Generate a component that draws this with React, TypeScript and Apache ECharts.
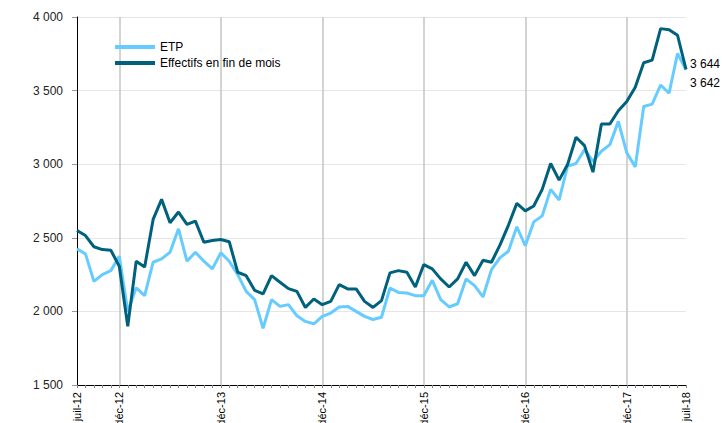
import React, { useEffect, useRef } from "react";
import * as echarts from "echarts";

const monthNames = ["janv", "févr", "mars", "avr", "mai", "juin", "juil", "août", "sept", "oct", "nov", "déc"];
const startMonth = 6; // juil
const startYear = 12;
const monthCount = 73;

const categories: string[] = [];
for (let i = 0; i < monthCount; i++) {
  const m = (startMonth + i) % 12;
  const y = startYear + Math.floor((startMonth + i) / 12);
  categories.push(`${monthNames[m]}-${y}`);
}

const shownLabels = [0, 5, 17, 29, 41, 53, 65, 72];
const decGridLines = [5, 17, 29, 41, 53, 65];

const etp = [
  2425, 2391, 2204, 2250, 2277, 2375, 2000, 2160, 2107, 2334, 2357, 2402,
  2561, 2341, 2402, 2341, 2289, 2398, 2341, 2250, 2136, 2080, 1885, 2080,
  2034, 2046, 1970, 1932, 1916, 1966, 1989, 2030, 2034, 2000, 1966, 1945,
  1960, 2159, 2129, 2125, 2107, 2107, 2211, 2080, 2030, 2052, 2221, 2175,
  2098, 2284, 2364, 2409, 2575, 2446, 2608, 2649, 2829, 2757, 2987, 3005,
  3099, 3020, 3088, 3133, 3291, 3077, 2982, 3392, 3408, 3538, 3482, 3752,
  3642,
];

const effectifs = [
  2550, 2515, 2439, 2420, 2415, 2307, 1898, 2341, 2302, 2625, 2761, 2602,
  2675, 2591, 2613, 2470, 2482, 2488, 2473, 2266, 2243, 2143, 2119, 2243,
  2198, 2155, 2136, 2027, 2084, 2046, 2068, 2182, 2153, 2153, 2068, 2027,
  2073, 2262, 2277, 2266, 2166, 2318, 2289, 2221, 2166, 2221, 2334, 2243,
  2348, 2334, 2450, 2585, 2734, 2683, 2716, 2829, 3005, 2892, 2998, 3183,
  3126, 2946, 3273, 3273, 3363, 3426, 3523, 3689, 3707, 3921, 3914, 3876,
  3644,
];

const fmt = (v: number) => String(Math.round(v)).replace(/\B(?=(\d{3})+(?!\d))/g, " ");

const FONT = "'Liberation Sans', Arial, sans-serif";

export default function App() {
  const ref = useRef<HTMLDivElement>(null);

  useEffect(() => {
    if (!ref.current) return;
    const chart = echarts.init(ref.current, undefined, { renderer: "svg" });
    chart.setOption({
      animation: false,
      backgroundColor: "#ffffff",
      textStyle: { fontFamily: FONT },
      grid: {
        left: 77,
        right: 36,
        top: 17,
        bottom: 38,
        containLabel: false,
        outerBoundsMode: "none",
      },
      legend: {
        orient: "vertical",
        left: 110,
        top: 36,
        itemWidth: 40,
        itemHeight: 4,
        itemGap: 4,
        icon: "rect",
        textStyle: { fontSize: 12, color: "#000", fontFamily: FONT },
        data: ["ETP", "Effectifs en fin de mois"],
      },
      xAxis: {
        type: "category",
        data: categories,
        boundaryGap: false,
        axisLine: { lineStyle: { color: "#000", width: 1 } },
        axisTick: { show: true, interval: 0, length: 3, lineStyle: { color: "#888" } },
        axisLabel: {
          interval: (i: number) => shownLabels.includes(i),
          rotate: 90,
          fontSize: 11,
          color: "#000",
          margin: 7,
          fontFamily: FONT,
        },
        splitLine: {
          show: true,
          interval: (i: number) => decGridLines.includes(i),
          lineStyle: { color: "#c4c4c4", width: 1.5 },
        },
      },
      yAxis: {
        type: "value",
        min: 1500,
        max: 4000,
        interval: 500,
        axisLine: { show: true, lineStyle: { color: "#000", width: 1 } },
        axisTick: { show: true, length: 5, lineStyle: { color: "#999" } },
        axisLabel: {
          fontSize: 12,
          color: "#222",
          margin: 14,
          fontFamily: FONT,
          formatter: (v: number) => fmt(v),
        },
        splitLine: { show: true, lineStyle: { color: "#e6e6e6", width: 1 } },
      },
      series: [
        {
          name: "ETP",
          type: "line",
          data: etp,
          symbol: "none",
          lineStyle: { color: "#66ccff", width: 3 },
          itemStyle: { color: "#66ccff" },
          endLabel: {
            show: true,
            formatter: (p: any) => fmt(p.value),
            color: "#000",
            fontSize: 12,
            fontFamily: FONT,
            distance: 4,
            offset: [0, 13],
          },
        },
        {
          name: "Effectifs en fin de mois",
          type: "line",
          data: effectifs,
          symbol: "none",
          lineStyle: { color: "#00617d", width: 3 },
          itemStyle: { color: "#00617d" },
          endLabel: {
            show: true,
            formatter: (p: any) => fmt(p.value),
            color: "#000",
            fontSize: 12,
            fontFamily: FONT,
            distance: 4,
            offset: [0, -5],
          },
        },
      ],
    });
    return () => chart.dispose();
  }, []);

  return (
    <div
      ref={ref}
      style={{ position: "fixed", left: 0, top: 0, width: 722, height: 423, background: "#fff" }}
    />
  );
}
